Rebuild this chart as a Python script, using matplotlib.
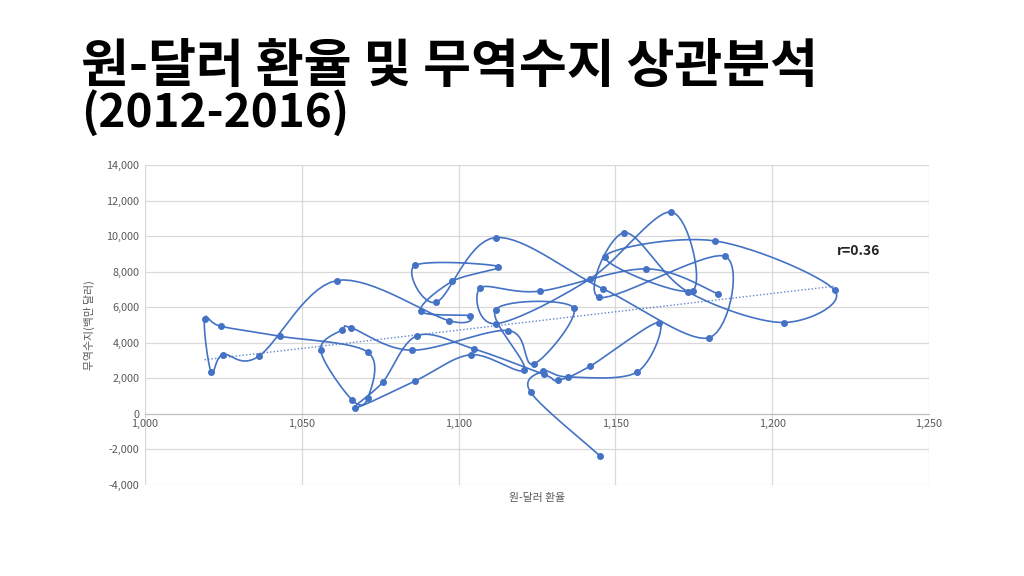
import numpy as np
import matplotlib.pyplot as plt

plt.rcParams['font.family'] = ['Noto Sans CJK KR', 'DejaVu Sans']

# monthly KRW/USD rate and trade balance (million USD), Jan 2012 - Dec 2016
rate = [1145.0, 1123.0, 1126.9, 1134.9, 1156.9, 1163.8, 1141.9, 1131.7, 1127.1, 1104.8, 1086.8, 1075.8,
        1067.0, 1086.0, 1103.9, 1121.0, 1111.8, 1136.7, 1123.9, 1115.9, 1085.0, 1065.8, 1062.9, 1056.0,
        1065.9, 1071.0, 1071.0, 1042.9, 1024.1, 1019.0, 1021.1, 1024.8, 1036.2, 1061.1, 1097.0, 1103.7,
        1087.9, 1098.0, 1112.7, 1086.0, 1092.9, 1111.8, 1145.9, 1179.8, 1184.9, 1144.9, 1152.9, 1173.0,
        1203.7, 1219.9, 1181.8, 1146.6, 1174.7, 1167.8, 1141.9, 1111.8, 1106.9, 1125.8, 1159.9, 1182.8]
balance = [-2350, 1210, 2400, 2080, 2350, 5140, 2680, 1900, 2230, 3660, 4400, 1780,
           340, 1840, 3330, 2490, 5870, 5970, 2800, 4690, 3580, 4840, 4740, 3570,
           800, 870, 3480, 4370, 4930, 5350, 2350, 3340, 3230, 7500, 5240, 5520,
           5780, 7460, 8290, 8350, 6280, 9920, 7050, 4280, 8870, 6550, 10200, 6880,
           5140, 6960, 9730, 8850, 6940, 11360, 7590, 5070, 7090, 6900, 8160, 6750]

blue = '#4472C4'


def smooth(x, y, n=16):
    # Excel-like smoothed line (Catmull-Rom bezier), computed in screen proportions
    sx, sy = 784 / 250.0, 320 / 18000.0
    p = np.column_stack([np.asarray(x) * sx, np.asarray(y) * sy])
    out = []
    t = np.linspace(0, 1, n)[:, None]
    for i in range(len(p) - 1):
        p0 = p[i - 1] if i > 0 else p[i]
        p1, p2 = p[i], p[i + 1]
        p3 = p[i + 2] if i + 2 < len(p) else p[i + 1]
        c1 = p1 + (p2 - p0) / 6.0
        c2 = p2 - (p3 - p1) / 6.0
        seg = ((1 - t) ** 3) * p1 + 3 * ((1 - t) ** 2) * t * c1 + 3 * (1 - t) * t ** 2 * c2 + t ** 3 * p2
        out.append(seg if i == 0 else seg[1:])
    out = np.vstack(out)
    return out[:, 0] / sx, out[:, 1] / sy


fig = plt.figure(figsize=(10.24, 5.76), dpi=100)
ax = fig.add_axes([145 / 1024, 91 / 576, 784 / 1024, 320 / 576])

lx, ly = smooth(rate, balance)
ax.plot(lx, ly, color=blue, lw=1.2, zorder=3)
ax.plot(rate, balance, 'o', color=blue, ms=4, zorder=4)

k, b = np.polyfit(rate, balance, 1)
tx = np.array([min(rate), max(rate)])
ax.plot(tx, k * tx + b, color=blue, lw=1.0, ls=(0, (1, 1.5)), alpha=0.85, zorder=2)
ax.text(1227.5, 9150, 'r=0.36', fontsize=10, fontweight='bold', color='#222222',
        ha='center', va='center')

ax.set_xlim(1000, 1250)
ax.set_ylim(-4000, 14000)
ax.set_xticks(np.arange(1000, 1251, 50))
ax.set_yticks(np.arange(-4000, 14001, 2000))
ax.xaxis.set_major_formatter(plt.FuncFormatter(lambda v, p: f'{v:,.0f}'))
ax.yaxis.set_major_formatter(plt.FuncFormatter(lambda v, p: f'{v:,.0f}'))
ax.grid(True, color='#d9d9d9', lw=0.9)
ax.set_axisbelow(True)
for s in ['top', 'right', 'left']:
    ax.spines[s].set_visible(False)
ax.spines['bottom'].set_position(('data', 0))
ax.spines['bottom'].set_color('#bfbfbf')
ax.tick_params(length=0, labelsize=7.8, labelcolor='#595959', pad=4)

ax.set_xlabel('원-달러 환율', fontsize=7.8, color='#595959')
ax.xaxis.set_label_coords(0.5, -0.025)
ax.set_ylabel('무역수지(백만 달러)', fontsize=7.8, color='#595959')
ax.yaxis.set_label_coords(-0.064, 0.5)

fig.text(0.079, 1 - 82 / 576, '원-달러 환율 및 무역수지 상관분석', fontsize=37.5,
         fontweight='bold', color='black', ha='left', va='baseline')
fig.text(0.079, 1 - 127 / 576, '(2012-2016)', fontsize=33,
         fontweight='bold', color='black', ha='left', va='baseline')

fig.savefig('out.png', dpi=100)
